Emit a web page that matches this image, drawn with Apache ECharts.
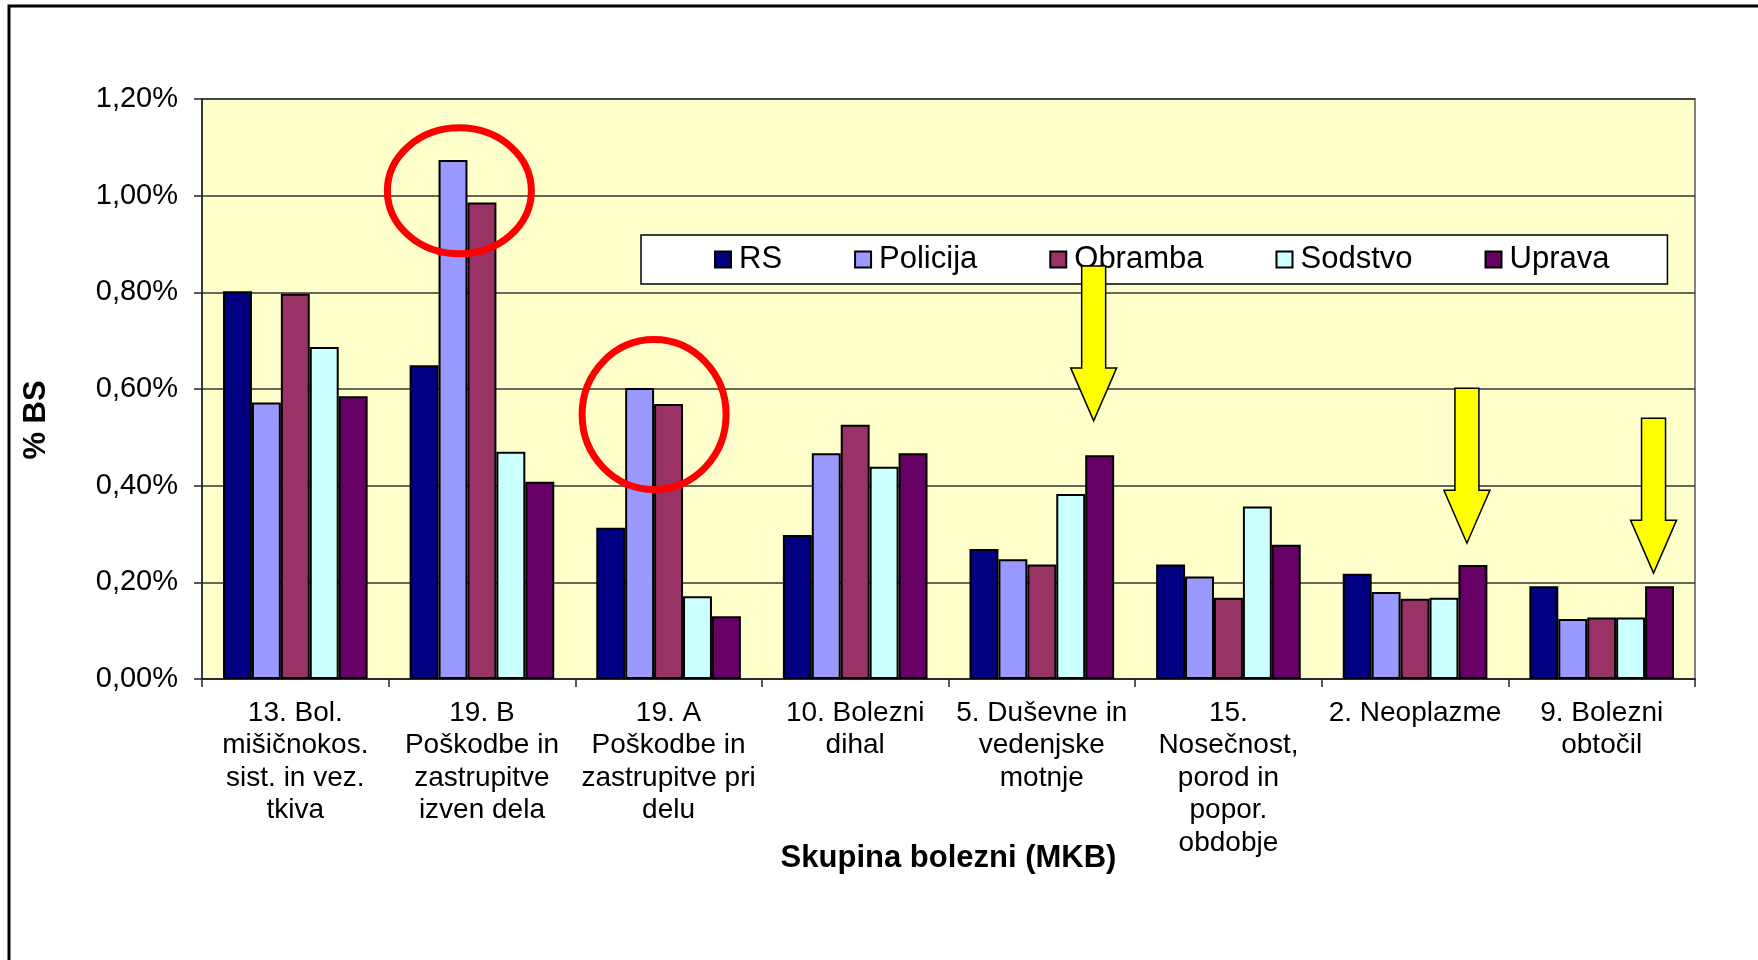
<!DOCTYPE html>
<html>
<head>
<meta charset="utf-8">
<script src="https://cdn.jsdelivr.net/npm/echarts@6/dist/echarts.min.js"></script>
<style>
  html, body { margin: 0; padding: 0; background: #fff; }
  #chart { width: 1758px; height: 960px; }
</style>
</head>
<body>
<div id="chart"></div>
<script>
// categories (x axis), values in % of BS
const categories = [
  '13. Bol.\nmišičnokos.\nsist. in vez.\ntkiva',
  '19. B\nPoškodbe in\nzastrupitve\nizven dela',
  '19. A\nPoškodbe in\nzastrupitve pri\ndelu',
  '10. Bolezni\ndihal',
  '5. Duševne in\nvedenjske\nmotnje',
  '15.\nNosečnost,\nporod in\npopor.\nobdobje',
  '2. Neoplazme',
  '9. Bolezni\nobtočil'
];
const seriesNames = ['RS', 'Policija', 'Obramba', 'Sodstvo', 'Uprava'];
const rs       = [0.802, 0.649, 0.313, 0.298, 0.269, 0.237, 0.218, 0.192];
const policija = [0.572, 1.074, 0.602, 0.467, 0.248, 0.212, 0.180, 0.124];
const obramba  = [0.797, 0.986, 0.569, 0.526, 0.237, 0.168, 0.166, 0.127];
const sodstvo  = [0.687, 0.470, 0.171, 0.439, 0.383, 0.357, 0.168, 0.127];
const uprava   = [0.585, 0.408, 0.130, 0.467, 0.463, 0.278, 0.236, 0.192];
const colors = ['#000080', '#9999FF', '#993366', '#CCFFFF', '#660066'];

// annotations: red rings around the peaks, yellow arrows above Uprava
const rings = [{ cat: 1, value: 1.01, shift: -0.78 }, { cat: 2, value: 0.547, shift: -0.5 }];
const arrows = [{ cat: 4, tip: 0.534 }, { cat: 6, tip: 0.281 }, { cat: 7, tip: 0.219 }];

const font = "'Liberation Sans', Arial, sans-serif";
const allValues = [rs, policija, obramba, sodstvo, uprava];

const chart = echarts.init(document.getElementById('chart'));

chart.setOption({
  animation: false,
  backgroundColor: '#fff',
  textStyle: { fontFamily: font, color: '#000' },
  grid: {
    left: 202, right: 63, top: 99, bottom: 281,
    show: true,
    backgroundColor: '#FFFFCC',
    borderColor: '#808080',
    borderWidth: 2
  },
  legend: {
    left: 641,
    top: 235,
    padding: [9, 58, 9, 73],
    backgroundColor: '#fff',
    borderColor: '#000',
    borderWidth: 1.5,
    itemGap: 72,
    itemWidth: 16,
    itemHeight: 16,
    icon: 'rect',
    textStyle: { fontSize: 31, fontFamily: font, color: '#000', padding: [0, 0, 0, 3] },
    data: seriesNames
  },
  xAxis: {
    type: 'category',
    data: categories,
    name: 'Skupina bolezni (MKB)',
    nameLocation: 'middle',
    nameGap: 164,
    nameMoveOverlap: false,
    nameTextStyle: { fontSize: 31, fontWeight: 'bold', fontFamily: font, color: '#000' },
    axisLine: { lineStyle: { color: '#222', width: 1.5 } },
    axisTick: { show: true, length: 8, lineStyle: { color: '#222', width: 1.5 } },
    axisLabel: {
      interval: 0,
      fontSize: 28,
      lineHeight: 32.5,
      margin: 18,
      color: '#000',
      fontFamily: font,
      align: 'center'
    }
  },
  yAxis: {
    type: 'value',
    min: 0,
    max: 1.2,
    interval: 0.2,
    name: '% BS',
    nameLocation: 'middle',
    nameRotate: 90,
    nameGap: 150,
    nameMoveOverlap: false,
    nameTextStyle: { fontSize: 31, fontWeight: 'bold', fontFamily: font, color: '#000', padding: [0, 62, 0, 0] },
    axisLine: { show: true, lineStyle: { color: '#222', width: 1.5 } },
    axisTick: { show: true, inside: false, length: 8, lineStyle: { color: '#222', width: 1.5 } },
    splitLine: { show: true, lineStyle: { color: '#333', width: 1.5 } },
    axisLabel: {
      fontSize: 29,
      margin: 24,
      color: '#000',
      fontFamily: font,
      formatter: v => v.toFixed(2).replace('.', ',') + '%'
    }
  },
  series: seriesNames.map((name, i) => ({
    name: name,
    type: 'bar',
    data: allValues[i],
    barGap: '0%',
    barCategoryGap: '22.5%',
    itemStyle: { color: colors[i], borderColor: '#000', borderWidth: 2 }
  }))
});

// place annotations using the chart's own scales
const x0 = chart.convertToPixel({ xAxisIndex: 0 }, 0);
const band = chart.convertToPixel({ xAxisIndex: 0 }, 1) - x0;
const barW = band * (1 - 0.225) / 5;
const px = c => chart.convertToPixel({ xAxisIndex: 0 }, c);
const py = v => chart.convertToPixel({ yAxisIndex: 0 }, v);

const graphics = [{
  type: 'rect',
  z: 200,
  shape: { x: 9, y: 6, width: 1800, height: 1000 },
  style: { fill: 'none', stroke: '#000', lineWidth: 3 }
}];

rings.forEach(r => {
  graphics.push({
    type: 'ellipse',
    z: 150,
    shape: { cx: px(r.cat) + r.shift * barW, cy: py(r.value), rx: 72, ry: r.cat === 1 ? 63 : 75 },
    style: { fill: 'none', stroke: '#FF0000', lineWidth: 7 }
  });
});

arrows.forEach(a => {
  const x = px(a.cat) + 2 * barW - 6;
  const ty = py(a.tip);
  graphics.push({
    type: 'polygon',
    z: 150,
    shape: {
      points: [
        [x - 12, ty - 155], [x + 12, ty - 155], [x + 12, ty - 53], [x + 23, ty - 53],
        [x, ty], [x - 23, ty - 53], [x - 12, ty - 53]
      ]
    },
    style: { fill: '#FFFF00', stroke: '#000', lineWidth: 1.5 }
  });
});

chart.setOption({ graphic: graphics });
</script>
</body>
</html>
